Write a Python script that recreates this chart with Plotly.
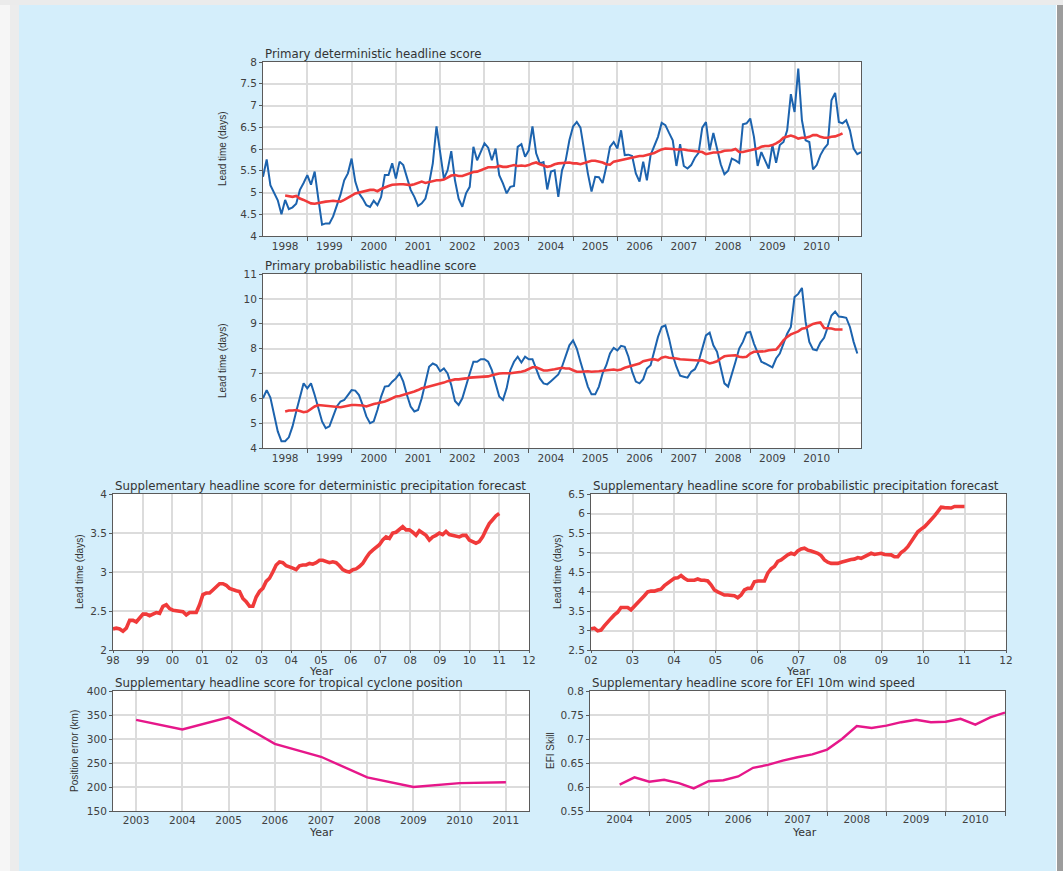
"""ECMWF-style headline score panels rebuilt with Plotly."""

import numpy as np
import plotly.graph_objects as go

# ---- data ------------------------------------------------------------------

# Primary deterministic headline score, monthly from Jan 1998
DET_MONTHLY = [
    5.36, 5.76, 5.17, 5.00, 4.82, 4.50, 4.83, 4.62, 4.66, 4.74, 5.06, 5.22,
    5.40, 5.18, 5.48, 4.85, 4.26, 4.29, 4.29, 4.45, 4.72, 4.95, 5.28, 5.44,
    5.78, 5.25, 4.98, 4.86, 4.71, 4.67, 4.81, 4.71, 4.90, 5.40, 5.40, 5.67,
    5.32, 5.71, 5.63, 5.32, 5.06, 4.90, 4.69, 4.75, 4.86, 5.21, 5.67, 6.52,
    5.86, 5.32, 5.51, 5.95, 5.28, 4.86, 4.67, 4.98, 5.13, 6.05, 5.74, 5.93,
    6.13, 6.03, 5.74, 6.01, 5.40, 5.21, 4.98, 5.13, 5.15, 6.05, 6.11, 5.82,
    5.97, 6.52, 5.90, 5.67, 5.70, 5.07, 5.48, 5.51, 4.90, 5.51, 5.74, 6.20,
    6.52, 6.62, 6.49, 5.97, 5.44, 5.02, 5.36, 5.35, 5.22, 5.59, 6.05, 6.16,
    6.01, 6.43, 5.86, 5.87, 5.84, 5.44, 5.25, 5.71, 5.28, 5.86, 6.07, 6.28,
    6.60, 6.55, 6.37, 6.20, 5.61, 6.11, 5.61, 5.55, 5.63, 5.80, 5.91, 6.49,
    6.62, 5.97, 6.37, 6.03, 5.65, 5.42, 5.50, 5.78, 5.74, 5.68, 6.57, 6.59,
    6.70, 6.28, 5.61, 5.93, 5.73, 5.55, 6.09, 5.68, 6.09, 6.16, 6.43, 7.26,
    6.85, 7.85, 6.66, 6.20, 6.16, 5.53, 5.63, 5.86, 6.01, 6.11, 7.12, 7.29,
    6.62, 6.59, 6.66, 6.43, 6.01, 5.88, 5.93,
]
# 12-month running mean, monthly from Jul 1998
DET_MEAN = [
    4.93, 4.92, 4.90, 4.92, 4.86, 4.83, 4.78, 4.75, 4.74, 4.76,
    4.77, 4.79, 4.80, 4.81, 4.80, 4.79, 4.83, 4.89, 4.93, 4.98,
    5.00, 5.03, 5.04, 5.06, 5.06, 5.03, 5.08, 5.12, 5.15, 5.18,
    5.19, 5.19, 5.19, 5.18, 5.17, 5.19, 5.22, 5.25, 5.22, 5.24,
    5.27, 5.28, 5.28, 5.30, 5.34, 5.39, 5.40, 5.38, 5.38, 5.41,
    5.45, 5.47, 5.48, 5.51, 5.55, 5.58, 5.58, 5.58, 5.61, 5.59,
    5.59, 5.61, 5.63, 5.61, 5.62, 5.61, 5.63, 5.67, 5.69, 5.65,
    5.62, 5.59, 5.61, 5.65, 5.67, 5.68, 5.69, 5.69, 5.67, 5.67,
    5.65, 5.68, 5.71, 5.73, 5.73, 5.71, 5.69, 5.65, 5.64, 5.71,
    5.73, 5.74, 5.77, 5.78, 5.80, 5.82, 5.84, 5.84, 5.86, 5.89,
    5.91, 5.95, 5.99, 6.01, 6.01, 6.00, 5.99, 5.99, 5.99, 5.97,
    5.96, 5.96, 5.95, 5.93, 5.88, 5.90, 5.92, 5.92, 5.93, 5.96,
    5.97, 5.97, 6.00, 5.93, 5.93, 5.95, 5.97, 6.00, 6.01, 6.05,
    6.07, 6.07, 6.09, 6.13, 6.18, 6.26, 6.28, 6.31, 6.28, 6.24,
    6.26, 6.26, 6.28, 6.32, 6.32, 6.28, 6.26, 6.26, 6.28, 6.29,
    6.32, 6.36,
]

# Primary probabilistic headline score, monthly from Jan 1998
PROB_MONTHLY = [
    6.00, 6.33, 6.03, 5.33, 4.67, 4.27, 4.27, 4.43, 4.87, 5.47, 6.00, 6.60,
    6.40, 6.60, 6.13, 5.60, 5.07, 4.80, 4.87, 5.27, 5.67, 5.87, 5.93, 6.13,
    6.33, 6.31, 6.13, 5.73, 5.27, 5.00, 5.07, 5.53, 6.07, 6.47, 6.49, 6.67,
    6.80, 7.00, 6.67, 6.13, 5.67, 5.47, 5.53, 6.00, 6.60, 7.27, 7.40, 7.33,
    7.09, 7.20, 7.00, 6.53, 5.89, 5.73, 6.00, 6.53, 7.00, 7.47, 7.47, 7.57,
    7.57, 7.47, 7.13, 6.60, 6.07, 5.93, 6.40, 7.13, 7.47, 7.67, 7.44, 7.67,
    7.57, 7.57, 7.20, 6.80, 6.60, 6.56, 6.69, 6.83, 6.96, 7.27, 7.73, 8.13,
    8.33, 8.00, 7.47, 6.93, 6.47, 6.16, 6.16, 6.47, 7.00, 7.33, 7.80, 8.03,
    7.93, 8.11, 8.07, 7.67, 7.07, 6.67, 6.60, 6.77, 7.20, 7.33, 7.93, 8.47,
    8.87, 8.93, 8.40, 7.73, 7.27, 6.91, 6.87, 6.83, 7.07, 7.17, 7.47, 8.00,
    8.53, 8.64, 8.13, 7.87, 7.20, 6.60, 6.47, 6.93, 7.47, 8.00, 8.27, 8.64,
    8.67, 8.20, 7.84, 7.47, 7.40, 7.33, 7.24, 7.60, 7.80, 8.20, 8.60, 8.87,
    10.07, 10.20, 10.44, 9.07, 8.27, 7.97, 7.93, 8.24, 8.43, 8.87, 9.33, 9.49,
    9.29, 9.27, 9.24, 8.87, 8.27, 7.80,
]
PROB_MEAN = [
    5.47, 5.51, 5.51, 5.53, 5.49, 5.44, 5.47, 5.57, 5.67, 5.73,
    5.71, 5.69, 5.68, 5.67, 5.64, 5.64, 5.67, 5.71, 5.73, 5.73,
    5.73, 5.71, 5.67, 5.73, 5.77, 5.80, 5.83, 5.87, 5.93, 6.00,
    6.07, 6.09, 6.13, 6.16, 6.20, 6.27, 6.33, 6.40, 6.43, 6.47,
    6.51, 6.53, 6.56, 6.63, 6.69, 6.73, 6.76, 6.76, 6.77, 6.80,
    6.83, 6.84, 6.84, 6.84, 6.85, 6.88, 6.93, 6.97, 7.00, 7.01,
    7.00, 7.01, 7.03, 7.04, 7.07, 7.11, 7.17, 7.25, 7.25, 7.17,
    7.12, 7.12, 7.13, 7.17, 7.20, 7.23, 7.20, 7.20, 7.13, 7.07,
    7.07, 7.09, 7.09, 7.07, 7.07, 7.09, 7.11, 7.13, 7.13, 7.16,
    7.13, 7.16, 7.23, 7.27, 7.31, 7.36, 7.40, 7.49, 7.53, 7.56,
    7.57, 7.53, 7.63, 7.67, 7.63, 7.63, 7.60, 7.57, 7.56, 7.53,
    7.52, 7.52, 7.52, 7.53, 7.47, 7.40, 7.44, 7.49, 7.60, 7.69,
    7.71, 7.73, 7.73, 7.67, 7.65, 7.67, 7.80, 7.87, 7.87, 7.89,
    7.89, 7.93, 7.93, 7.96, 8.13, 8.33, 8.47, 8.57, 8.63, 8.69,
    8.80, 8.83, 8.91, 8.99, 9.03, 9.05, 8.83, 8.83, 8.81, 8.77,
    8.77, 8.77,
]

# Supplementary: deterministic precipitation (1998 -> 2011)
PRECIP_DET = [
    2.27, 2.28, 2.27, 2.24, 2.28, 2.38, 2.38, 2.36, 2.41, 2.46,
    2.46, 2.44, 2.46, 2.48, 2.47, 2.56, 2.58, 2.53, 2.51, 2.50,
    2.50, 2.49, 2.45, 2.48, 2.48, 2.48, 2.58, 2.71, 2.73, 2.73,
    2.77, 2.81, 2.85, 2.85, 2.83, 2.79, 2.77, 2.76, 2.75, 2.66,
    2.62, 2.56, 2.56, 2.68, 2.75, 2.79, 2.88, 2.92, 3.00, 3.09,
    3.13, 3.12, 3.08, 3.07, 3.05, 3.03, 3.08, 3.09, 3.09, 3.11,
    3.10, 3.12, 3.15, 3.15, 3.14, 3.12, 3.13, 3.12, 3.08, 3.03,
    3.01, 3.00, 3.03, 3.04, 3.07, 3.11, 3.18, 3.24, 3.28, 3.32,
    3.35, 3.41, 3.45, 3.43, 3.50, 3.51, 3.54, 3.58, 3.54, 3.54,
    3.51, 3.47, 3.53, 3.50, 3.47, 3.41, 3.45, 3.47, 3.50, 3.48,
    3.52, 3.48, 3.47, 3.45, 3.45, 3.47, 3.47, 3.41, 3.39, 3.37,
    3.39, 3.45, 3.54, 3.62, 3.67, 3.72, 3.75,
]
# Supplementary: probabilistic precipitation (2002 -> 2011)
PRECIP_PROB = [
    3.04, 3.06, 2.99, 3.01, 3.12, 3.23, 3.31, 3.40, 3.47, 3.59,
    3.59, 3.59, 3.53, 3.61, 3.70, 3.80, 3.89, 3.99, 4.01, 4.01,
    4.04, 4.06, 4.15, 4.21, 4.29, 4.34, 4.35, 4.41, 4.34, 4.29,
    4.29, 4.29, 4.32, 4.29, 4.29, 4.27, 4.17, 4.04, 3.99, 3.95,
    3.91, 3.91, 3.91, 3.89, 3.84, 3.91, 4.04, 4.08, 4.08, 4.25,
    4.27, 4.27, 4.27, 4.47, 4.58, 4.64, 4.77, 4.81, 4.89, 4.94,
    4.98, 4.95, 5.04, 5.09, 5.11, 5.06, 5.04, 5.02, 4.98, 4.92,
    4.81, 4.75, 4.72, 4.72, 4.72, 4.75, 4.78, 4.81, 4.82, 4.83,
    4.87, 4.85, 4.89, 4.95, 4.98, 4.95, 4.96, 4.98, 4.95, 4.94,
    4.94, 4.89, 4.89, 5.00, 5.06, 5.15, 5.28, 5.41, 5.53, 5.60,
    5.66, 5.75, 5.83, 5.94, 6.05, 6.16, 6.15, 6.15, 6.14, 6.18,
    6.19, 6.18, 6.18,
]

# Supplementary: tropical cyclone position error (km)
TC_YEARS = [2003, 2004, 2005, 2006, 2007, 2008, 2009, 2010, 2011]
TC_ERROR = [340, 320, 345, 290, 263, 220, 200, 208, 210]

# Supplementary: EFI 10m wind speed skill, quarterly
EFI_TIME = [
    2004.5, 2004.75, 2005.0, 2005.25, 2005.5, 2005.75, 2006.0, 2006.25, 2006.5,
    2006.75, 2007.0, 2007.25, 2007.5, 2007.75, 2008.0, 2008.25, 2008.5, 2008.75,
    2009.0, 2009.25, 2009.5, 2009.75, 2010.0, 2010.25, 2010.5, 2010.75, 2011.0,
]
EFI_SKILL = [
    0.605, 0.620, 0.611, 0.615, 0.608, 0.597, 0.612, 0.614, 0.622,
    0.640, 0.646, 0.655, 0.662, 0.668, 0.678, 0.700, 0.727, 0.723,
    0.728, 0.735, 0.740, 0.735, 0.736, 0.742, 0.730, 0.745, 0.755,
]

# ---- styling ---------------------------------------------------------------

W, H = 1063, 871
FONT = "DejaVu Sans, Open Sans, sans-serif"
NARROW = "Liberation Sans Narrow, Liberation Sans, sans-serif"
BG = "#d4eefb"
GRID = "#dcdcdc"
AXIS = "#5a5a5a"
TICK = "#404040"
TITLE = "#333333"
BLUE = "#1c63ae"
RED = "#f03a3a"
MAGENTA = "#e6178a"
TICK_SIZE = 10.5


def hdom(left, right):
    return [left / W, right / W]


def vdom(top, bottom):
    return [1 - bottom / H, 1 - top / H]


def axis_style(**overrides) -> dict:
    style = dict(
        showline=True, linecolor=AXIS, linewidth=1, mirror=True,
        showgrid=True, gridcolor=GRID, gridwidth=1.5,
        ticks="outside", ticklen=3, tickcolor=AXIS, tickwidth=1,
        tickfont=dict(family=FONT, size=TICK_SIZE, color=TICK),
        zeroline=False, fixedrange=True, automargin=False,
    )
    style.update(overrides)
    return style


def year_band_axis(start, end, stop, domain, anchor) -> dict:
    """Year labels centred in each year, grid and ticks at year boundaries."""
    years = list(range(start, end))
    return axis_style(
        domain=domain, anchor=anchor, range=[start, stop],
        tickmode="array", tickvals=[y + 0.5 for y in years], ticktext=[str(y) for y in years],
        ticks="", showgrid=False,
        minor=dict(tickmode="array", tickvals=list(range(start + 1, end + 1)),
                   ticks="outside", ticklen=4, tickcolor=AXIS,
                   showgrid=True, gridcolor=GRID, gridwidth=1.5),
    )


def short_years(a, b):
    return [f"{y % 100:02d}" for y in range(a, b + 1)]


months_det = [1998 + i / 12 for i in range(len(DET_MONTHLY))]
mean_det = [1998.5 + i / 12 for i in range(len(DET_MEAN))]
months_prob = [1998 + i / 12 for i in range(len(PROB_MONTHLY))]
mean_prob = [1998.5 + i / 12 for i in range(len(PROB_MEAN))]
t_precip_det = np.linspace(1998, 2011, len(PRECIP_DET))
t_precip_prob = np.linspace(2002, 2011, len(PRECIP_PROB))

fig = go.Figure()
fig.add_trace(go.Scatter(x=months_det, y=DET_MONTHLY, mode="lines",
                         line=dict(color=BLUE, width=2), xaxis="x", yaxis="y"))
fig.add_trace(go.Scatter(x=mean_det, y=DET_MEAN, mode="lines",
                         line=dict(color=RED, width=2.6), xaxis="x", yaxis="y"))
fig.add_trace(go.Scatter(x=months_prob, y=PROB_MONTHLY, mode="lines",
                         line=dict(color=BLUE, width=2), xaxis="x2", yaxis="y2"))
fig.add_trace(go.Scatter(x=mean_prob, y=PROB_MEAN, mode="lines",
                         line=dict(color=RED, width=2.6), xaxis="x2", yaxis="y2"))
fig.add_trace(go.Scatter(x=t_precip_det, y=PRECIP_DET, mode="lines",
                         line=dict(color=RED, width=3.6), xaxis="x3", yaxis="y3"))
fig.add_trace(go.Scatter(x=t_precip_prob, y=PRECIP_PROB, mode="lines",
                         line=dict(color=RED, width=3.6), xaxis="x4", yaxis="y4"))
fig.add_trace(go.Scatter(x=TC_YEARS, y=TC_ERROR, mode="lines",
                         line=dict(color=MAGENTA, width=2.4), xaxis="x5", yaxis="y5"))
fig.add_trace(go.Scatter(x=EFI_TIME, y=EFI_SKILL, mode="lines",
                         line=dict(color=MAGENTA, width=2.4), xaxis="x6", yaxis="y6"))

top_x = hdom(263, 861)

layout = dict(
    width=W, height=H, margin=dict(l=0, r=0, t=0, b=0, autoexpand=False),
    paper_bgcolor=BG, plot_bgcolor="white", showlegend=False,
    font=dict(family=FONT, color=TICK),
    xaxis=year_band_axis(1998, 2011, 2011.5, top_x, "y"),
    yaxis=axis_style(domain=vdom(62, 236), anchor="x", range=[4, 8], dtick=0.5),
    xaxis2=year_band_axis(1998, 2011, 2011.5, top_x, "y2"),
    yaxis2=axis_style(domain=vdom(274, 448), anchor="x2", range=[4, 11], dtick=1),
    xaxis3=axis_style(domain=hdom(113, 529), anchor="y3", range=[1998, 2012],
                      tickmode="array", tickvals=list(range(1998, 2013)),
                      ticktext=short_years(1998, 2012), ticklen=2, ticklabelstandoff=-2),
    yaxis3=axis_style(domain=vdom(494, 650), anchor="x3", range=[2, 4], dtick=0.5),
    xaxis4=axis_style(domain=hdom(591, 1006), anchor="y4", range=[2002, 2012],
                      tickmode="array", tickvals=list(range(2002, 2013)),
                      ticktext=short_years(2002, 2012), ticklen=2, ticklabelstandoff=-2),
    yaxis4=axis_style(domain=vdom(494, 650), anchor="x4", range=[2.5, 6.5], dtick=0.5),
    xaxis5=axis_style(domain=hdom(113, 529), anchor="y5", range=[2002.5, 2011.5],
                      tickmode="array", tickvals=TC_YEARS, ticks="", ticklabelstandoff=-1),
    yaxis5=axis_style(domain=vdom(691, 811), anchor="x5", range=[150, 400], dtick=50),
    xaxis6=year_band_axis(2004, 2011, 2011, hdom(590, 1005), "y6"),
    yaxis6=axis_style(domain=vdom(691, 811), anchor="x6", range=[0.55, 0.8], dtick=0.05),
)
layout["xaxis6"]["ticklabelstandoff"] = -2

titles = [
    ("", "Primary deterministic headline score"),
    ("2", "Primary probabilistic headline score"),
    ("3", "Supplementary headline score for deterministic precipitation forecast"),
    ("4", "Supplementary headline score for probabilistic precipitation forecast"),
    ("5", "Supplementary headline score for tropical cyclone position"),
    ("6", "Supplementary headline score for EFI 10m wind speed"),
]
annotations = []
for ax, text in titles:
    annotations.append(dict(
        text=text, xref=f"x{ax} domain", yref=f"y{ax} domain", x=0, y=1,
        xanchor="left", yanchor="bottom", yshift=-1, showarrow=False,
        font=dict(family=FONT, size=11.8, color=TITLE),
    ))

y_titles = [
    ("", 222, "Lead time (days)"),
    ("2", 222, "Lead time (days)"),
    ("3", 79, "Lead time (days)"),
    ("4", 557, "Lead time (days)"),
    ("5", 74, "Position error (km)"),
    ("6", 550, "EFI Skill"),
]
for ax, xpix, text in y_titles:
    annotations.append(dict(
        text=text, xref="paper", yref=f"y{ax} domain", x=xpix / W, y=0.5,
        xanchor="center", yanchor="middle", textangle=-90, showarrow=False,
        font=dict(family=NARROW, size=10, color=TITLE),
    ))

for xpix, ypix in [(321, 671), (798, 671), (321, 832), (804, 832)]:
    annotations.append(dict(
        text="Year", xref="paper", yref="paper", x=xpix / W, y=1 - ypix / H,
        xanchor="center", yanchor="middle", showarrow=False,
        font=dict(family=FONT, size=11, color=TITLE),
    ))

layout["annotations"] = annotations

# page frame: grey edges round the light-blue panel
layout["shapes"] = [
    dict(type="rect", xref="paper", yref="paper", x0=0, x1=10 / W, y0=0, y1=1,
         fillcolor="#f6f6f6", line=dict(width=0), layer="below"),
    dict(type="rect", xref="paper", yref="paper", x0=10 / W, x1=19 / W, y0=0, y1=1,
         fillcolor="#ececec", line=dict(width=0), layer="below"),
    dict(type="rect", xref="paper", yref="paper", x0=0, x1=1, y0=1 - 5 / H, y1=1,
         fillcolor="#ebebeb", line=dict(width=0), layer="below"),
    dict(type="rect", xref="paper", yref="paper", x0=1056 / W, x1=1057 / W, y0=0, y1=1 - 5 / H,
         fillcolor="#ffffff", line=dict(width=0), layer="below"),
    dict(type="rect", xref="paper", yref="paper", x0=1057 / W, x1=1, y0=0, y1=1 - 5 / H,
         fillcolor="#9c9c9c", line=dict(width=0), layer="below"),
]

fig.update_layout(**layout)
fig.write_html(
    "out.html",
    config=dict(displayModeBar=False),
    post_script="document.body.style.margin='0';",
)
